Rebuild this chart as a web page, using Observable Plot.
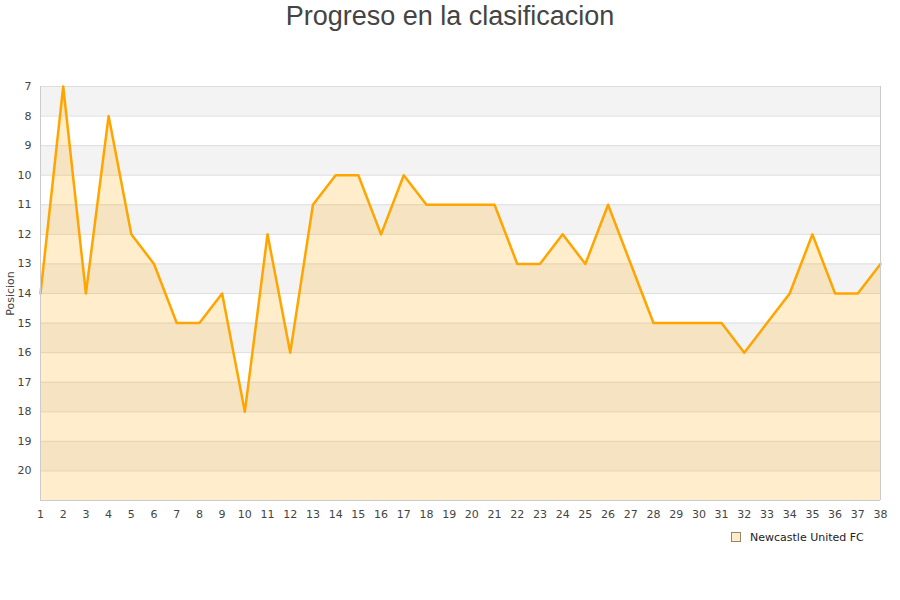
<!DOCTYPE html>
<html>
<head>
<meta charset="utf-8">
<script src="https://cdn.jsdelivr.net/npm/d3@7"></script>
<script src="https://cdn.jsdelivr.net/npm/@observablehq/plot@0.6"></script>
<style>
  body { margin: 0; background: #fff; }
  #wrap { position: relative; width: 900px; height: 600px; }
  #title { position: absolute; top: 0; left: 0; width: 900px; text-align: center;
    font: 27px "Liberation Sans", Arial, sans-serif; color: #444; line-height: 32px; }
  #legend { position: absolute; left: 731px; top: 531px;
    font: 11px "DejaVu Sans", sans-serif; color: #222; }
  #legend span.sw { display: inline-block; width: 8px; height: 8px; border: 1px solid #9a8466;
    background: #fdeccd; margin-right: 9px; vertical-align: -1px; }
</style>
</head>
<body>
<div id="wrap">
  <div id="title">Progreso en la clasificacion</div>
  <div id="chart"></div>
  <div id="legend"><span class="sw"></span>Newcastle United FC</div>
</div>
<script>
// jornada 1..38 and league position
const jornadas = d3.range(1, 39);
const posiciones = [14, 7, 14, 8, 12, 13, 15, 15, 14, 18, 12, 16, 11, 10, 10, 12, 10, 11, 11, 11,
  11, 13, 13, 12, 13, 11, 13, 15, 15, 15, 15, 16, 15, 14, 12, 14, 14, 13];
const yTicks = d3.range(7, 21);
const bandStarts = [7, 9, 11, 13, 15, 17, 19];

const data = jornadas.map((j, i) => ({jornada: j, pos: posiciones[i]}));

const chart = Plot.plot({
  width: 900,
  height: 600,
  marginTop: 86,
  marginBottom: 100,
  marginLeft: 40,
  marginRight: 20,
  style: {fontFamily: "DejaVu Sans", fontSize: "11px", color: "#444", background: "transparent"},
  x: {domain: [1, 38]},
  y: {domain: [7, 21], reverse: true},
  marks: [
    Plot.rect(bandStarts, {x1: 1, x2: 38, y1: d => d, y2: d => d + 1, fill: "#f3f3f3"}),
    Plot.ruleY(d3.range(7, 22), {stroke: "#dedede", strokeWidth: 1}),
    Plot.areaY(data, {x: "jornada", y1: "pos", y2: 21, fill: "orange", fillOpacity: 0.2}),
    Plot.line(data, {x: "jornada", y: "pos", stroke: "orange", strokeWidth: 2.5}),
    Plot.ruleX([1, 38], {stroke: "#cccccc"}),
    Plot.ruleY([21], {stroke: "#cccccc"}),
    Plot.axisX({ticks: jornadas, tickSize: 0, tickPadding: 10, tickFormat: d => d, label: null}),
    Plot.axisY({ticks: yTicks, tickSize: 0, tickPadding: 9, tickFormat: d => d,
      label: "Posicion", labelAnchor: "center", labelArrow: "none", labelOffset: 34})
  ]
});
document.getElementById("chart").appendChild(chart);
</script>
</body>
</html>
